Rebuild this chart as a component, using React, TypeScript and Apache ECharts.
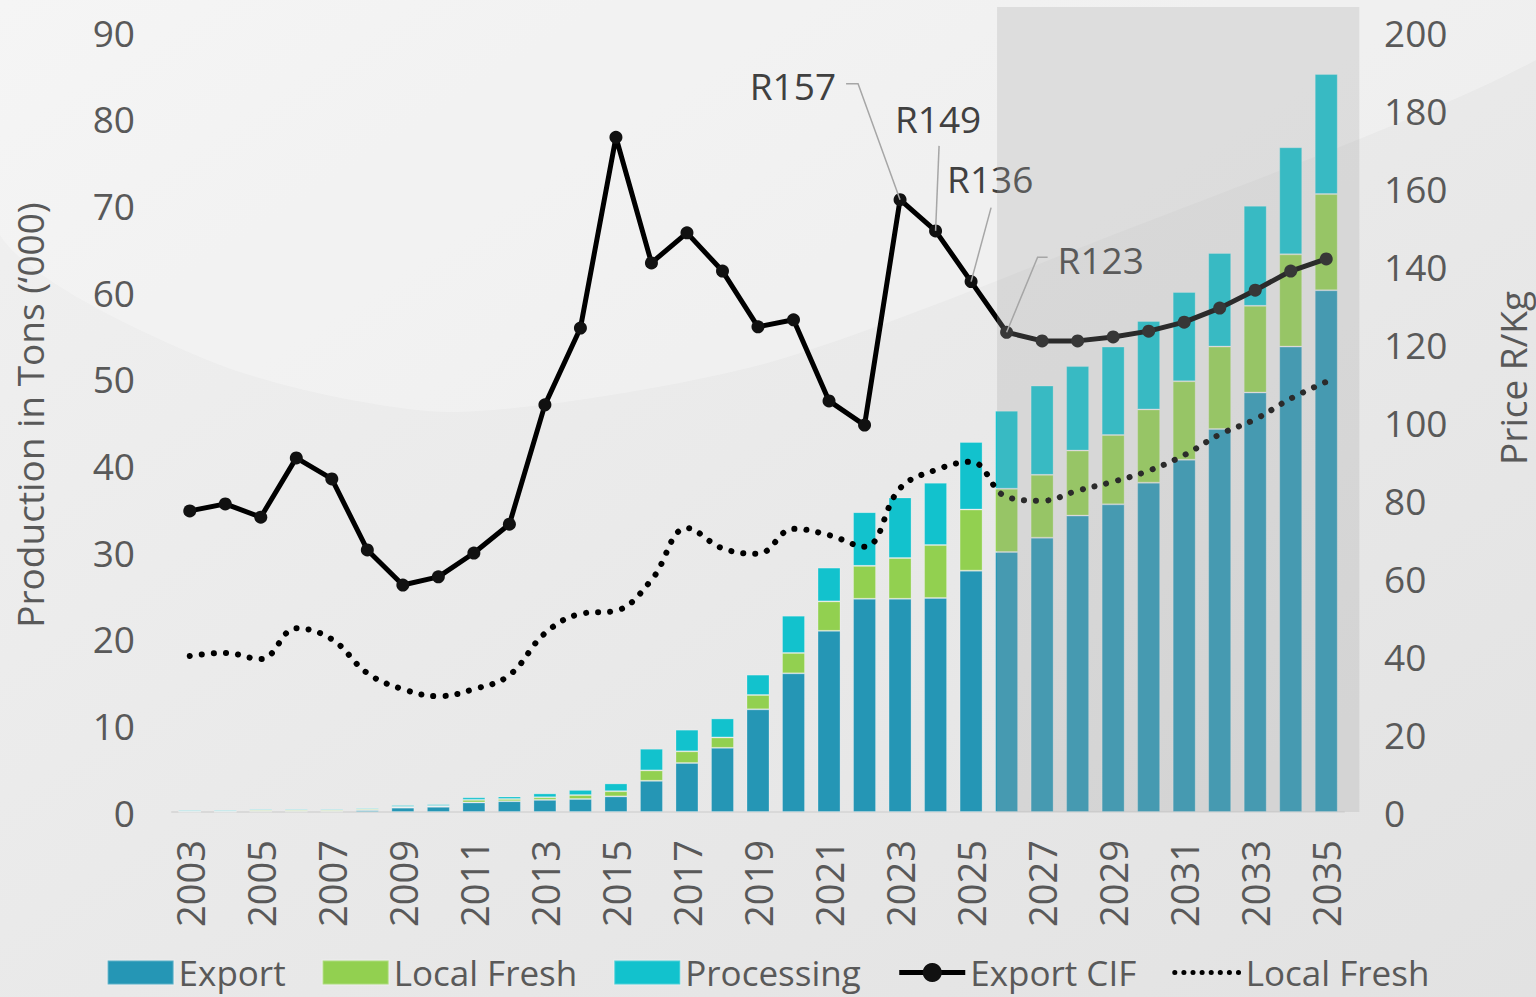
import React, { useEffect, useRef } from 'react';
import * as echarts from 'echarts';

const years = ['2003', '2004', '2005', '2006', '2007', '2008', '2009', '2010', '2011', '2012', '2013', '2014', '2015', '2016', '2017', '2018', '2019', '2020', '2021', '2022', '2023', '2024', '2025', '2026', '2027', '2028', '2029', '2030', '2031', '2032', '2033', '2034', '2035'];

// Production ('000 tons), left axis
const exportTons = [0.02, 0.02, 0.05, 0.05, 0.05, 0.2, 0.5, 0.6, 1.1, 1.25, 1.4, 1.5, 1.8, 3.6, 5.65, 7.4, 11.85, 16.0, 20.9, 24.6, 24.6, 24.7, 27.85, 30.0, 31.65, 34.2, 35.5, 38.0, 40.65, 44.2, 48.4, 53.7, 60.2];
const localFreshTons = [0.03, 0.03, 0.15, 0.15, 0.15, 0.15, 0.1, 0.1, 0.3, 0.25, 0.3, 0.45, 0.6, 1.2, 1.35, 1.2, 1.65, 2.35, 3.4, 3.8, 4.7, 6.1, 7.05, 7.3, 7.25, 7.5, 8.0, 8.45, 9.05, 9.5, 10.0, 10.65, 11.1];
const processingTons = [0.15, 0.15, 0.15, 0.15, 0.15, 0.15, 0.2, 0.2, 0.3, 0.3, 0.45, 0.6, 0.9, 2.5, 2.5, 2.2, 2.35, 4.3, 3.9, 6.2, 7.0, 7.2, 7.8, 9.0, 10.3, 9.75, 10.2, 10.2, 10.3, 10.8, 11.55, 12.35, 13.85];

// Prices (R/kg), right axis
const exportCifPrice = [77.2, 79, 75.6, 90.8, 85.4, 67.2, 58.2, 60.3, 66.4, 73.8, 104.4, 124.1, 173, 140.8, 148.5, 138.7, 124.4, 126.2, 105.4, 99.2, 157, 149, 136, 123, 120.8, 120.8, 121.8, 123.3, 125.6, 129.2, 133.8, 138.7, 141.8];
const localFreshPrice = [40, 40.8, 39.2, 47.1, 44.3, 35.6, 31.5, 29.7, 31.5, 35.1, 45.8, 50.8, 51.6, 59.5, 72.8, 67.6, 66.2, 72.6, 71, 68, 83, 87.7, 89.8, 80.8, 79.8, 82.4, 84.7, 87.5, 91.5, 96.8, 100.7, 106, 110.3];

const leftTicks = { min: 0, max: 90, interval: 10 };
const rightTicks = { min: 0, max: 200, interval: 20 };

const annotatedYears = ['2023', '2024', '2025', '2026'];
const annotationLabels = ['R157', 'R149', 'R136', 'R123'];
const forecastStart = '2026';

const FONT = "'Open Sans', 'Noto Sans', sans-serif";
const TEXT = '#595959';

export default function App() {
  const ref = useRef<HTMLDivElement>(null);

  useEffect(() => {
    const chart = echarts.init(ref.current!, null, { renderer: 'svg' });

    const option: any = {
      animation: false,
      backgroundColor: new echarts.graphic.LinearGradient(0, 0, 1, 1, [
        { offset: 0, color: '#f1f1f1' },
        { offset: 1, color: '#e2e2e2' },
      ]),
      textStyle: { fontFamily: FONT },
      grid: { left: 172, right: 192, top: 32, bottom: 185, containLabel: false },
      legend: {
        top: 950,
        left: 'center',
        itemWidth: 66,
        itemHeight: 24,
        itemGap: 36,
        textStyle: { fontSize: 35, color: TEXT, fontFamily: FONT },
        formatter: (n: string) => (n === 'Local Fresh price' ? 'Local Fresh' : n),
        data: [
          { name: 'Export', icon: 'rect' },
          { name: 'Local Fresh', icon: 'rect' },
          { name: 'Processing', icon: 'rect' },
          { name: 'Export CIF', lineStyle: { width: 5, color: '#000' } },
          { name: 'Local Fresh price', itemStyle: { opacity: 0 }, lineStyle: { width: 5, color: '#000', type: [0.1, 9], cap: 'round' } },
        ],
      },
      xAxis: {
        type: 'category',
        data: years,
        axisLine: { lineStyle: { color: '#d9d9d9', width: 2 } },
        axisTick: { show: false },
        axisLabel: { rotate: 90, interval: 1, fontSize: 38, color: TEXT, margin: 28, fontFamily: FONT },
      },
      yAxis: [
        {
          type: 'value',
          ...leftTicks,
          name: 'Production in Tons (\u2018000)',
          nameLocation: 'middle',
          nameGap: 124,
          nameTextStyle: { fontSize: 37, color: TEXT, fontFamily: FONT, padding: [0, 0, 0, 14] },
          axisLine: { show: false },
          axisTick: { show: false },
          splitLine: { show: false },
          axisLabel: { fontSize: 37, color: TEXT, margin: 37, fontFamily: FONT },
        },
        {
          type: 'value',
          ...rightTicks,
          position: 'right',
          axisLine: { show: false },
          axisTick: { show: false },
          splitLine: { show: false },
          axisLabel: { fontSize: 37, color: TEXT, margin: 40, fontFamily: FONT },
        },
      ],
      series: [
        { name: 'Export', type: 'bar', stack: 'prod', data: exportTons, barWidth: 23, itemStyle: { color: '#2596b5', borderColor: 'rgba(255,255,255,0.25)', borderWidth: 1 } },
        { name: 'Local Fresh', type: 'bar', stack: 'prod', data: localFreshTons, barWidth: 23, itemStyle: { color: '#92d050', borderColor: 'rgba(255,255,255,0.25)', borderWidth: 1 } },
        { name: 'Processing', type: 'bar', stack: 'prod', data: processingTons, barWidth: 23, itemStyle: { color: '#12c2cd', borderColor: 'rgba(255,255,255,0.25)', borderWidth: 1 } },
        {
          name: 'Export CIF',
          type: 'line',
          yAxisIndex: 1,
          data: exportCifPrice,
          symbol: 'circle',
          symbolSize: 13,
          lineStyle: { color: '#000', width: 5 },
          itemStyle: { color: '#111' },
          z: 5,
        },
        {
          name: 'Local Fresh price',
          type: 'line',
          yAxisIndex: 1,
          data: localFreshPrice,
          smooth: 0.4,
          symbol: 'none',
          lineStyle: { color: '#000', width: 6, type: [0.1, 12], cap: 'round' },
          itemStyle: { color: '#000' },
          z: 4,
        },
      ],
    };
    chart.setOption(option);

    const px = (i: number, v: number, yi: number) =>
      chart.convertToPixel({ xAxisIndex: 0, yAxisIndex: yi }, [i, v]) as number[];

    const band = px(1, 0, 0)[0] - px(0, 0, 0)[0];
    const startIdx = years.indexOf(forecastStart);
    const endIdx = years.length - 1;
    const base = px(startIdx, 0, 0);
    const topPt = px(endIdx, leftTicks.max, 0);
    const ovLeft = base[0] - band * 0.27;
    const ovRight = px(endIdx, 0, 0)[0] + band * 0.93;
    const ovTop = topPt[1] - 25;

    const layouts: any[] = [
      { tx: -64, ty: -114, align: 'right', pts: [[-54, -116], [-42, -116], [0, 0]] },
      { tx: 2.5, ty: -112, align: 'center', pts: [[3.5, -85], [0, 0]] },
      { tx: -24, ty: -103, align: 'left', pts: [[20, -74], [0, 0]] },
      { tx: 51, ty: -73, align: 'left', pts: [[41, -75], [31, -75], [0, 0]] },
    ];

    const graphics: any[] = [
      {
        type: 'polygon',
        z: -1,
        silent: true,
        shape: {
          points: [[0, 0], [0, 235], [220, 365], [450, 412], [760, 365], [1100, 240], [1536, 60], [1536, 0]],
          smooth: 0.25,
        },
        style: { fill: 'rgba(255,255,255,0.28)' },
      },
    ];

    annotatedYears.forEach((y, k) => {
      const i = years.indexOf(y);
      const p = px(i, exportCifPrice[i], 1);
      const l = layouts[k];
      graphics.push({
        type: 'polyline',
        z: 50,
        silent: true,
        shape: { points: l.pts.map((q: number[]) => [p[0] + q[0], p[1] + q[1]]) },
        style: { stroke: '#a6a6a6', lineWidth: 1.5, fill: 'none' },
      });
      graphics.push({
        type: 'text',
        z: 50,
        silent: true,
        x: p[0] + l.tx,
        y: p[1] + l.ty,
        style: {
          text: annotationLabels[k],
          fontSize: 37,
          fontFamily: FONT,
          fill: '#404040',
          align: l.align,
          verticalAlign: 'middle',
          textAlign: l.align,
          textVerticalAlign: 'middle',
        },
      });
    });

    graphics.push({
      type: 'rect',
      z: 100,
      silent: true,
      shape: { x: ovLeft, y: ovTop, width: ovRight - ovLeft, height: base[1] - ovTop },
      style: { fill: 'rgba(168,168,168,0.26)' },
    });

    graphics.push({
      type: 'text',
      z: 50,
      silent: true,
      x: 1512,
      y: 378,
      rotation: Math.PI / 2,
      style: {
        text: 'Price R/Kg',
        fontSize: 37,
        fontFamily: FONT,
        fill: TEXT,
        align: 'center',
        verticalAlign: 'middle',
        textAlign: 'center',
        textVerticalAlign: 'middle',
      },
    });

    chart.setOption({ graphic: graphics });

    return () => chart.dispose();
  }, []);

  return <div ref={ref} style={{ position: 'fixed', left: 0, top: 0, width: 1536, height: 997 }} />;
}
